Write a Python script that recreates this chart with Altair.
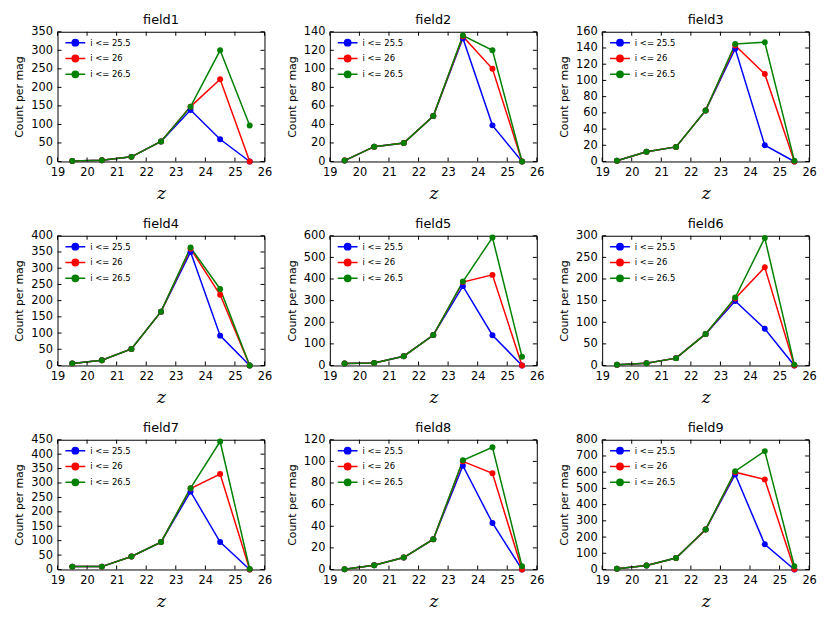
import altair as alt
import pandas as pd

# ---- data ----
x_mag = [19.5, 20.5, 21.5, 22.5, 23.5, 24.5, 25.5]
cuts = ["i <= 25.5", "i <= 26", "i <= 26.5"]
colors = ["#0000ff", "#ff0000", "#008000"]
fields = ["field1", "field2", "field3", "field4", "field5", "field6", "field7", "field8", "field9"]

f1 = [[1.5, 3.5, 12.5, 54, 139, 60, 0],
      [1.5, 3.5, 12.5, 54, 148, 222, 0],
      [1.5, 3.5, 12.5, 54, 148, 300, 97]]
f2 = [[1, 16, 20, 49, 133, 39, 0],
      [1, 16, 20, 49, 135, 100, 0],
      [1, 16, 20, 49, 136, 120, 0]]
f3 = [[1, 12, 18, 63, 139, 20, 0],
      [1, 12, 18, 63, 143, 108, 0],
      [1, 12, 18, 63, 145, 147, 1]]
f4 = [[6, 16, 51, 166, 350, 92, 0],
      [6, 16, 51, 166, 360, 218, 0],
      [6, 16, 51, 166, 364, 236, 0]]
f5 = [[9, 12, 43, 141, 367, 140, 0],
      [9, 12, 43, 141, 386, 419, 0],
      [9, 12, 43, 141, 388, 592, 40]]
f6 = [[1.5, 5, 17, 73, 149, 85, 0],
      [1.5, 5, 17, 73, 155, 227, 0],
      [1.5, 5, 17, 73, 157, 295, 2]]
f7 = [[10, 10, 45, 95, 270, 95, 0],
      [10, 10, 45, 95, 281, 331, 0],
      [10, 10, 45, 95, 282, 444, 2]]
f8 = [[0.3, 4, 11, 28, 96, 43, 0],
      [0.3, 4, 11, 28, 100, 89, 0],
      [0.3, 4, 11, 28, 101, 113, 3]]
f9 = [[4, 24, 71, 247, 586, 155, 0],
      [4, 24, 71, 247, 600, 555, 2],
      [4, 24, 71, 247, 606, 730, 20]]
series = [f1, f2, f3, f4, f5, f6, f7, f8, f9]

y_max = [350, 140, 160, 400, 600, 300, 450, 120, 800]
y_step = [50, 20, 20, 50, 100, 50, 50, 20, 100]
x_ticks = [19, 20, 21, 22, 23, 24, 25, 26]

W, H = 209, 131
TICK = 4

# line segment with a dot in the middle (scaled by sqrt(size)/2 = 4 px)
legend_symbol = "M-2.5,0L2.5,0M-0.8,0A0.8,0.8,0,1,1,0.8,0A0.8,0.8,0,1,1,-0.8,0Z"


def panel(k):
    rows = []
    for c, vals in zip(cuts, series[k]):
        for xv, yv in zip(x_mag, vals):
            rows.append({"mag": xv, "count": yv, "cut": c})
    df = pd.DataFrame(rows)
    yt = list(range(0, y_max[k] + 1, y_step[k]))

    xs = alt.Scale(domain=[19, 26], nice=False, zero=False)
    ys = alt.Scale(domain=[0, y_max[k]], nice=False)
    xaxis = alt.Axis(values=x_ticks, title="z", titleFont="DejaVu Serif",
                     titleFontStyle="italic", titleFontSize=17, titleColor="black",
                     titleFontWeight="normal", titlePadding=8, format="d",
                     labelFontSize=11.5, labelFont="DejaVu Sans", labelColor="black",
                     labelOverlap=False, labelFlush=False, labelPadding=5,
                     ticks=False, domain=False, grid=False)
    yaxis = alt.Axis(values=yt, title="Count per mag", titleFontSize=11,
                     titleFont="DejaVu Sans", titleColor="black",
                     titleFontWeight="normal", titlePadding=6, format="d",
                     labelFontSize=11.5, labelFont="DejaVu Sans", labelColor="black",
                     labelOverlap=False, labelFlush=False, labelPadding=5,
                     ticks=False, domain=False, grid=False)
    xenc = alt.X("mag:Q", scale=xs, axis=xaxis)
    yenc = alt.Y("count:Q", scale=ys, axis=yaxis)
    leg = alt.Legend(title=None, orient="none", legendX=13, legendY=6, padding=0,
                     labelFontSize=8.5, labelFont="DejaVu Sans", labelColor="black",
                     symbolType=legend_symbol, symbolSize=64, symbolStrokeWidth=1.5,
                     symbolOpacity=1, labelOffset=10, rowPadding=2)
    base = alt.Chart(df)
    line = base.mark_line(strokeWidth=1.5, clip=False).encode(
        x=xenc, y=yenc,
        stroke=alt.Stroke("cut:N", scale=alt.Scale(domain=cuts, range=colors), legend=leg),
    )
    pts = base.mark_point(filled=True, size=36, opacity=1, clip=False).encode(
        x=xenc, y=yenc,
        fill=alt.Fill("cut:N", scale=alt.Scale(domain=cuts, range=colors), legend=leg),
    )
    xt = alt.Chart(pd.DataFrame({"mag": x_ticks}))
    yt_c = alt.Chart(pd.DataFrame({"count": yt}))
    tb = xt.mark_tick(color="black", thickness=1, size=TICK, opacity=1).encode(
        x=alt.X("mag:Q", scale=xs, axis=xaxis), y=alt.value(H - TICK / 2))
    tt = xt.mark_tick(color="black", thickness=1, size=TICK, opacity=1).encode(
        x=alt.X("mag:Q", scale=xs, axis=xaxis), y=alt.value(TICK / 2))
    tl = yt_c.mark_tick(color="black", thickness=1, size=TICK, opacity=1).encode(
        y=alt.Y("count:Q", scale=ys, axis=yaxis), x=alt.value(TICK / 2))
    tr = yt_c.mark_tick(color="black", thickness=1, size=TICK, opacity=1).encode(
        y=alt.Y("count:Q", scale=ys, axis=yaxis), x=alt.value(W - TICK / 2))
    return alt.layer(line, pts, tb, tt, tl, tr).properties(
        width=W, height=H,
        title=alt.TitleParams(fields[k], fontSize=13, fontWeight="normal",
                              font="DejaVu Sans", color="black", offset=-1),
    )


chart = alt.concat(*[panel(k) for k in range(9)], columns=3,
                   spacing={"row": 15, "column": 13}).resolve_scale(
    fill="independent", stroke="independent", y="independent", x="independent"
).resolve_legend(fill="independent", stroke="independent").properties(
    background="white", padding={"left": 5, "top": 2, "right": 5, "bottom": 5}
).configure_view(
    stroke="black", strokeWidth=1
).configure_axis(
    domain=False, ticks=False, grid=False, labelFontSize=11.5, labelFont="DejaVu Sans",
    labelColor="black", titleFont="DejaVu Sans", titleColor="black", labelPadding=5,
    labelOverlap=False
).configure_title(fontWeight="normal", fontSize=13, font="DejaVu Sans")

chart.save("out.html", embed_options={"renderer": "svg", "actions": False})
